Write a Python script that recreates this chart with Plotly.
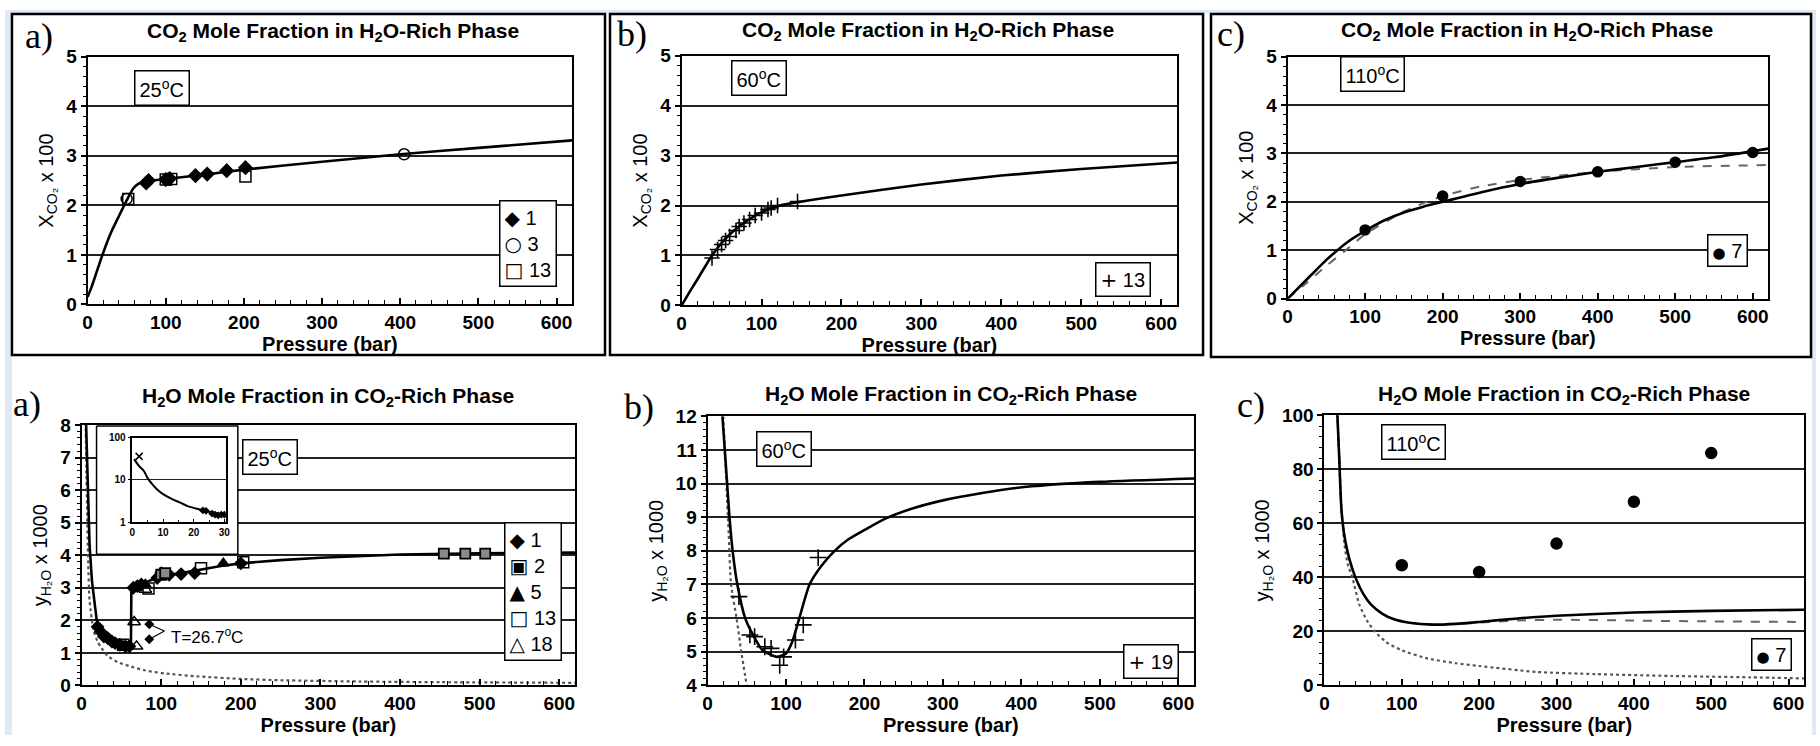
import plotly.graph_objects as go

W, H = 1820, 746

# ---------------- DATA ----------------
# Top a) 25 C  CO2 mole fraction x100
ta_curve_p = [0, 5, 10, 19, 30, 40, 50, 58, 62, 68, 75, 100, 150, 200, 300, 400, 500, 620]
ta_curve_x = [0.15, 0.35, 0.58, 1.0, 1.45, 1.78, 2.1, 2.33, 2.4, 2.46, 2.49, 2.53, 2.62, 2.72, 2.88, 3.03, 3.16, 3.31]
ta_ref1_p = [75, 78, 100, 105, 138, 153, 178, 202]
ta_ref1_x = [2.45, 2.5, 2.52, 2.54, 2.6, 2.63, 2.7, 2.76]
ta_ref3_p = [50, 405]
ta_ref3_x = [2.13, 3.03]
ta_ref13_p = [52, 100, 107, 202]
ta_ref13_x = [2.13, 2.52, 2.53, 2.58]

# Top b) 60 C
tb_curve_p = [0, 10, 20, 38, 50, 60, 75, 90, 105, 123, 150, 200, 300, 400, 500, 620]
tb_curve_x = [0, 0.27, 0.53, 1.0, 1.25, 1.42, 1.62, 1.78, 1.9, 2.0, 2.08, 2.2, 2.42, 2.6, 2.73, 2.86]
tb_ref13_p = [38, 45, 50, 55, 60, 68, 72, 78, 85, 92, 100, 108, 112, 120, 145]
tb_ref13_x = [0.95, 1.12, 1.22, 1.3, 1.38, 1.5, 1.58, 1.65, 1.72, 1.8, 1.85, 1.92, 1.95, 2.0, 2.08]

# Top c) 110 C
tc_solid_p = [0, 25, 50, 62, 80, 100, 125, 150, 175, 200, 250, 300, 350, 400, 450, 500, 550, 620]
tc_solid_x = [0, 0.4, 0.8, 0.97, 1.2, 1.4, 1.62, 1.78, 1.9, 2.0, 2.2, 2.37, 2.5, 2.62, 2.72, 2.82, 2.92, 3.1]
tc_dash_p = [0, 25, 50, 75, 100, 150, 200, 250, 300, 400, 500, 620]
tc_dash_x = [0, 0.33, 0.68, 1.0, 1.33, 1.8, 2.12, 2.32, 2.45, 2.62, 2.72, 2.76]
tc_ref7_p = [100, 200, 300, 400, 500, 600]
tc_ref7_x = [1.42, 2.12, 2.42, 2.62, 2.82, 3.02]

# Bottom a) 25 C  H2O mole fraction x1000
ba_solid_p = [4.5, 6, 8, 10, 13, 16, 19, 24, 29, 37, 45, 55, 62, 62.5, 68, 75, 90, 100, 125, 150, 175, 200, 250, 300, 400, 500, 620]
ba_solid_y = [9, 7.5, 5.5, 4.3, 3.2, 2.5, 2.0, 1.75, 1.58, 1.45, 1.36, 1.33, 1.32, 3.0, 3.08, 3.12, 3.25, 3.35, 3.45, 3.57, 3.67, 3.75, 3.85, 3.92, 4.02, 4.06, 4.08]
ba_dot_p = [4.5, 6, 8, 10, 15, 20, 25, 33, 45, 62, 80, 104, 145, 200, 250, 350, 450, 620]
ba_dot_y = [9, 6.5, 4, 2.6, 1.7, 1.35, 1.15, 0.9, 0.72, 0.58, 0.46, 0.37, 0.28, 0.2, 0.16, 0.12, 0.1, 0.08]
ba_ref1_p = [20, 24, 28, 33, 38, 42, 48, 55, 60, 65, 70, 75, 95, 100, 110, 125, 142, 200]
ba_ref1_y = [1.8, 1.65, 1.5, 1.45, 1.35, 1.3, 1.25, 1.2, 1.2, 3.0, 3.05, 3.1, 3.3, 3.45, 3.4, 3.42, 3.45, 3.75]
ba_ref2_p = [100, 105, 455, 482, 507]
ba_ref2_y = [3.4, 3.45, 4.05, 4.05, 4.05]
ba_ref5_p = [80, 178]
ba_ref5_y = [3.1, 3.75]
ba_ref13_p = [52, 84, 150, 203]
ba_ref13_y = [1.25, 2.98, 3.6, 3.78]
ba_ref18_p = [66, 69, 80]
ba_ref18_y = [1.95, 1.2, 2.95]
ba_t267_p = [85, 85]
ba_t267_y = [1.88, 1.42]
ba_t267_label = "T=26.7<sup>o</sup>C"

# inset (log scale, 0-30 bar)
in_curve_p = [0.6, 2, 3.8, 5, 6.4, 8, 10, 13, 15.6, 18, 20.8, 23, 26, 30]
in_curve_y = [31, 22, 16, 11, 8, 6, 4.6, 3.5, 2.9, 2.4, 2.1, 1.9, 1.7, 1.55]
in_x_p = [2.2]
in_x_y = [36]
in_pts_p = [23, 24, 26, 27, 28, 29, 30]
in_pts_y = [1.9, 1.85, 1.6, 1.5, 1.45, 1.5, 1.5]

# Bottom b) 60 C
bb_solid_p = [19, 22, 25, 28, 32, 38, 48, 58, 70, 88, 100, 108, 117, 130, 145, 162, 180, 200, 226, 260, 300, 350, 413, 500, 620]
bb_solid_y = [12, 11, 10, 9, 8, 7, 6, 5.5, 5.05, 4.85, 4.95, 5.3, 6.0, 7.0, 7.55, 8.0, 8.35, 8.62, 8.95, 9.25, 9.5, 9.72, 9.92, 10.05, 10.15]
bb_dot_p = [20, 24, 27, 30, 37, 43, 50]
bb_dot_y = [12, 10, 8.5, 7, 6, 5, 4]
bb_ref19_p = [40, 54, 60, 73, 81, 92, 97, 112, 122, 141]
bb_ref19_y = [6.64, 5.5, 5.45, 5.15, 5.1, 4.6, 4.85, 5.35, 5.8, 7.8]

# Bottom c) 110 C
bc_solid_p = [16, 19, 22, 26, 32, 40, 50, 60, 75, 90, 110, 140, 170, 200, 250, 300, 400, 500, 620]
bc_solid_y = [105, 85, 65, 55, 47, 40, 34, 30, 26.5, 24.5, 23.2, 22.5, 22.8, 23.5, 24.8, 25.8, 27, 27.6, 28]
bc_dash_p = [16, 19, 22, 26, 32, 40, 50, 60, 75, 90, 110, 140, 170, 200, 250, 300, 400, 500, 620]
bc_dash_y = [105, 85, 65, 55, 47, 40, 34, 30, 26.5, 24.5, 23.2, 22.5, 22.8, 23.3, 24.0, 24.3, 24.0, 23.7, 23.5]
bc_dot_p = [16, 19, 22, 26, 30, 36, 45, 55, 65, 80, 100, 133, 170, 200, 274, 350, 450, 550, 620]
bc_dot_y = [105, 85, 65, 52, 45, 40, 30, 24, 20, 16, 13, 10, 8.2, 7.2, 5, 4.2, 3.5, 3.0, 2.6]
bc_ref7_p = [100, 200, 300, 400, 500]
bc_ref7_y = [44.5, 42, 52.5, 68, 86]

top_title = "CO<sub>2</sub> Mole Fraction in H<sub>2</sub>O-Rich Phase"
bot_title = "H<sub>2</sub>O Mole Fraction in CO<sub>2</sub>-Rich Phase"
top_ytitle = "X<sub>CO₂</sub> x 100"
bot_ytitle = "y<sub>H₂O</sub> x 1000"
xtitle = "Pressure (bar)"
temps = ["25<sup>o</sup>C", "60<sup>o</sup>C", "110<sup>o</sup>C"]
panel_letters = ["a)", "b)", "c)"]
legend_items = {
    1: [("◆", "1"), ("○", "3"), ("□", "13")],
    2: [("+", "13")],
    3: [("●", "7")],
    4: [("◆", "1"), ("▣", "2"), ("▲", "5"), ("□", "13"), ("△", "18")],
    5: [("+", "19")],
    6: [("●", "7")],
}

# ---------------- LAYOUT GEOMETRY (pixels) ----------------
panels = {
    1: dict(x=(83, 570), y=(48, 303), yr=[0, 5], dt=1, mdt=0.2),
    2: dict(x=(680, 1178), y=(47, 304), yr=[0, 5], dt=1, mdt=0.2),
    3: dict(x=(1289, 1772), y=(48, 297), yr=[0, 5], dt=1, mdt=0.2),
    4: dict(x=(77, 573), y=(427, 695), yr=[0, 8], dt=1, mdt=0.2),
    5: dict(x=(706, 1195), y=(418, 695), yr=[4, 12], dt=1, mdt=0.2),
    6: dict(x=(1326, 1808), y=(417, 695), yr=[0, 100], dt=20, mdt=4),
}
XR = [0, 620]

def fx(v):
    return v / W

def fy(v):
    return 1 - v / H

FONT = "Liberation Sans"
GLYPH = "DejaVu Sans"
fig = go.Figure()

def k(i, a):
    return a if i == 1 else f"{a}{i}"

layout = dict(
    width=W, height=H, autosize=False,
    margin=dict(l=0, r=0, t=0, b=0),
    paper_bgcolor="white", plot_bgcolor="white",
    font=dict(family=FONT, color="black"),
    showlegend=False,
)

for i, pdef in panels.items():
    xa = dict(
        domain=[fx(pdef["x"][0]), fx(pdef["x"][1])], range=XR, anchor=k(i, "y"),
        dtick=100, tick0=0, ticks="inside", ticklen=6, tickwidth=1.5, tickcolor="black",
        minor=dict(dtick=20, ticks="inside", ticklen=4, tickwidth=1.2, tickcolor="black", showgrid=False),
        showline=True, linecolor="black", linewidth=2, mirror=True, showgrid=False, zeroline=False,
        tickfont=dict(family=FONT, size=19, color="black", weight="bold"),
        title=dict(text=xtitle, font=dict(family=FONT, size=20, color="black", weight="bold"), standoff=0),
    )
    ya = dict(
        domain=[fy(pdef["y"][1]), fy(pdef["y"][0])], range=pdef["yr"], anchor=k(i, "x"),
        dtick=pdef["dt"], tick0=0, ticks="outside", ticklen=5, tickwidth=1.5, tickcolor="black",
        minor=dict(dtick=pdef["mdt"], ticks="outside", ticklen=3, tickwidth=1, tickcolor="black", showgrid=False),
        showline=True, linecolor="black", linewidth=2, mirror=True,
        showgrid=True, gridcolor="#222222", gridwidth=1.8, zeroline=False,
        tickfont=dict(family=FONT, size=19, color="black", weight="bold"),
        title=dict(text=top_ytitle if i <= 3 else bot_ytitle, font=dict(family=FONT, size=20, color="black"), standoff=7),
    )
    layout[k(i, "xaxis")] = xa
    layout[k(i, "yaxis")] = ya

# inset axes
layout["xaxis7"] = dict(
    domain=[fx(128), fx(222)], range=[0, 30.5], anchor="y7",
    tickvals=[0, 10, 20, 30], ticks="inside", ticklen=3, tickcolor="black",
    minor=dict(dtick=5, ticks="inside", ticklen=2, tickcolor="black"),
    showline=True, linecolor="black", linewidth=1.5, mirror=True, showgrid=False, zeroline=False,
    tickfont=dict(family=FONT, size=10, color="black", weight="bold"),
)
layout["yaxis7"] = dict(
    domain=[fy(527), fy(440)], type="log", range=[0, 2], anchor="x7",
    tickvals=[1, 10, 100], ticktext=["1", "10", "100"], ticks="outside", ticklen=3, tickcolor="black",
    showline=True, linecolor="black", linewidth=1.5, mirror=True,
    showgrid=True, gridcolor="#222222", gridwidth=1.2, zeroline=False,
    tickfont=dict(family=FONT, size=10, color="black", weight="bold"),
)

fig.update_layout(**layout)

LINE = dict(color="black", width=2.6)
DOT = dict(color="#555555", width=2.2, dash="dot")
DASH = dict(color="#666666", width=2, dash="dash")

def curve(xs, ys, i, line, smooth=True):
    ln = dict(line)
    if smooth:
        ln.update(shape="spline", smoothing=0.6)
    fig.add_trace(go.Scatter(x=xs, y=ys, mode="lines", line=ln,
                             xaxis=k(i, "x"), yaxis=k(i, "y"), showlegend=False, hoverinfo="skip"))

def pts(xs, ys, i, name, symbol, size=10, color="black", lw=1.5, lc="black"):
    fig.add_trace(go.Scatter(x=xs, y=ys, mode="markers", name=name,
                             marker=dict(symbol=symbol, size=size, color=color, line=dict(width=lw, color=lc)),
                             xaxis=k(i, "x"), yaxis=k(i, "y"), showlegend=False))

# --- white box behind inset (bottom a), computed from pixel box ---
p4 = panels[4]
def px_to_data4(xp, yp):
    xd = (xp - p4["x"][0]) / (p4["x"][1] - p4["x"][0]) * (XR[1] - XR[0])
    yd = (p4["y"][1] - yp) / (p4["y"][1] - p4["y"][0]) * (p4["yr"][1] - p4["yr"][0]) + p4["yr"][0]
    return xd, yd
bx0, by0 = px_to_data4(92, p4["y"][0] + 1)
bx1, by1 = px_to_data4(234, 560)
fig.add_trace(go.Scatter(x=[bx0, bx1, bx1, bx0, bx0], y=[by0, by0, by1, by1, by0], mode="lines",
                         fill="toself", fillcolor="white", line=dict(color="black", width=1.5),
                         xaxis="x4", yaxis="y4", showlegend=False, hoverinfo="skip"))

# Top a
curve(ta_curve_p, ta_curve_x, 1, LINE)
pts(ta_ref1_p, ta_ref1_x, 1, "1", "diamond", 10)
pts(ta_ref3_p, ta_ref3_x, 1, "3", "circle-open", 11, lw=1.5)
pts(ta_ref13_p, ta_ref13_x, 1, "13", "square-open", 11, lw=1.5)

# Top b
curve(tb_curve_p, tb_curve_x, 2, LINE)
pts(tb_ref13_p, tb_ref13_x, 2, "13", "cross-thin", 11, lw=1.6)

# Top c
curve(tc_dash_p, tc_dash_x, 3, DASH)
curve(tc_solid_p, tc_solid_x, 3, LINE)
pts(tc_ref7_p, tc_ref7_x, 3, "7", "circle", 10)

# Bottom a
curve(ba_dot_p, ba_dot_y, 4, DOT)
curve(ba_solid_p, ba_solid_y, 4, LINE, smooth=False)
pts(ba_ref1_p, ba_ref1_y, 4, "1", "diamond", 9)
pts(ba_ref2_p, ba_ref2_y, 4, "2", "square", 10, color="#8a8a8a", lw=1.8)
pts(ba_ref5_p, ba_ref5_y, 4, "5", "triangle-up", 10)
pts(ba_ref13_p, ba_ref13_y, 4, "13", "square-open", 11)
pts(ba_ref18_p, ba_ref18_y, 4, "18", "triangle-up-open", 11)
# T = 26.7 C points with leader lines
lab_x, lab_y = 104, 1.67
fig.add_trace(go.Scatter(x=[ba_t267_p[0], lab_x, ba_t267_p[1]], y=[ba_t267_y[0], lab_y, ba_t267_y[1]],
                         mode="lines", line=dict(color="black", width=1.2), xaxis="x4", yaxis="y4",
                         showlegend=False, hoverinfo="skip"))
pts(ba_t267_p, ba_t267_y, 4, "26.7", "diamond", 6)

# inset
fig.add_trace(go.Scatter(x=in_curve_p, y=in_curve_y, mode="lines", line=dict(color="black", width=2, shape="spline"),
                         xaxis="x7", yaxis="y7", showlegend=False, hoverinfo="skip"))
fig.add_trace(go.Scatter(x=in_x_p, y=in_x_y, mode="markers", marker=dict(symbol="x-thin", size=7, line=dict(width=1.5, color="black")),
                         xaxis="x7", yaxis="y7", showlegend=False, hoverinfo="skip"))
fig.add_trace(go.Scatter(x=in_pts_p, y=in_pts_y, mode="markers", marker=dict(symbol="diamond", size=6, color="black"),
                         xaxis="x7", yaxis="y7", showlegend=False, hoverinfo="skip"))

# Bottom b
curve(bb_dot_p, bb_dot_y, 5, DOT)
curve(bb_solid_p, bb_solid_y, 5, LINE)
pts(bb_ref19_p, bb_ref19_y, 5, "19", "cross-thin", 12, lw=1.6)

# Bottom c
curve(bc_dot_p, bc_dot_y, 6, DOT)
curve(bc_dash_p, bc_dash_y, 6, DASH)
curve(bc_solid_p, bc_solid_y, 6, LINE)
pts(bc_ref7_p, bc_ref7_y, 6, "7", "circle", 11)

# ---------------- annotations / shapes ----------------
ann = []
titles = [(330, 23, top_title), (928, 22, top_title), (1530, 22, top_title),
          (325, 398, bot_title), (951, 396, bot_title), (1567, 396, bot_title)]
for x, y, t in titles:
    ann.append(dict(x=fx(x), y=fy(y), xref="paper", yref="paper", text=t, showarrow=False,
                    font=dict(family=FONT, size=21, color="black", weight="bold"), xanchor="center", yanchor="middle"))
letters = [(18, 27, 0), (613, 25, 1), (1216, 25, 2), (6, 405, 0), (620, 408, 1), (1236, 406, 2)]
for x, y, li in letters:
    ann.append(dict(x=fx(x), y=fy(y), xref="paper", yref="paper", text=panel_letters[li], showarrow=False,
                    font=dict(family="Liberation Serif", size=36, color="black"), xanchor="left", yanchor="middle"))
tboxes = [(158, 80, 0), (758, 70, 1), (1374, 66, 2), (266, 460, 0), (783, 452, 1), (1415, 445, 2)]
for x, y, ti in tboxes:
    ann.append(dict(x=fx(x), y=fy(y), xref="paper", yref="paper", text=temps[ti], showarrow=False,
                    font=dict(family=FONT, size=20, color="black"), bgcolor="white",
                    bordercolor="black", borderwidth=1.5, borderpad=4, xanchor="center", yanchor="middle"))
ann.append(dict(x=lab_x + 6, y=lab_y - 0.15, xref="x4", yref="y4", text=ba_t267_label, showarrow=False,
                font=dict(family=FONT, size=17, color="black"), xanchor="left", yanchor="middle"))
# legend boxes (centre positions in pixels)
leg_pos = {1: (526, 240), 2: (1124, 277), 3: (1731, 247), 4: (531, 598), 5: (1152, 670), 6: (1775, 663)}
for i, (x, y) in leg_pos.items():
    parts = []
    for g, lab in legend_items[i]:
        size = "font-size:15px;" if g == "●" else ""
        parts.append(f'<span style="font-family:{GLYPH};{size}">{g}</span> {lab}')
    ann.append(dict(x=fx(x), y=fy(y), xref="paper", yref="paper", text="<br>".join(parts), showarrow=False,
                    font=dict(family=FONT, size=20, color="black"), bgcolor="white", align="left",
                    bordercolor="black", borderwidth=1.5, borderpad=4, xanchor="center", yanchor="middle"))

shapes = []
# light blue page edges
for (x0, y0, x1, y1) in [(0, 0, 7, H), (0, 0, W, 3), (1816, 0, W, H)]:
    shapes.append(dict(type="rect", xref="paper", yref="paper", x0=fx(x0), x1=fx(x1), y0=fy(y1), y1=fy(y0),
                       fillcolor="#dfe9f6", line=dict(width=0), layer="below"))
# frames of top row panels
for (x0, x1, y1) in [(7, 603, 355), (608, 1204, 355), (1212, 1815, 357)]:
    shapes.append(dict(type="rect", xref="paper", yref="paper", x0=fx(x0), x1=fx(x1), y0=fy(y1), y1=fy(4),
                       line=dict(color="black", width=2.5), fillcolor="rgba(0,0,0,0)", layer="below"))

fig.update_layout(annotations=ann, shapes=shapes)

fig.write_html("out.html")
